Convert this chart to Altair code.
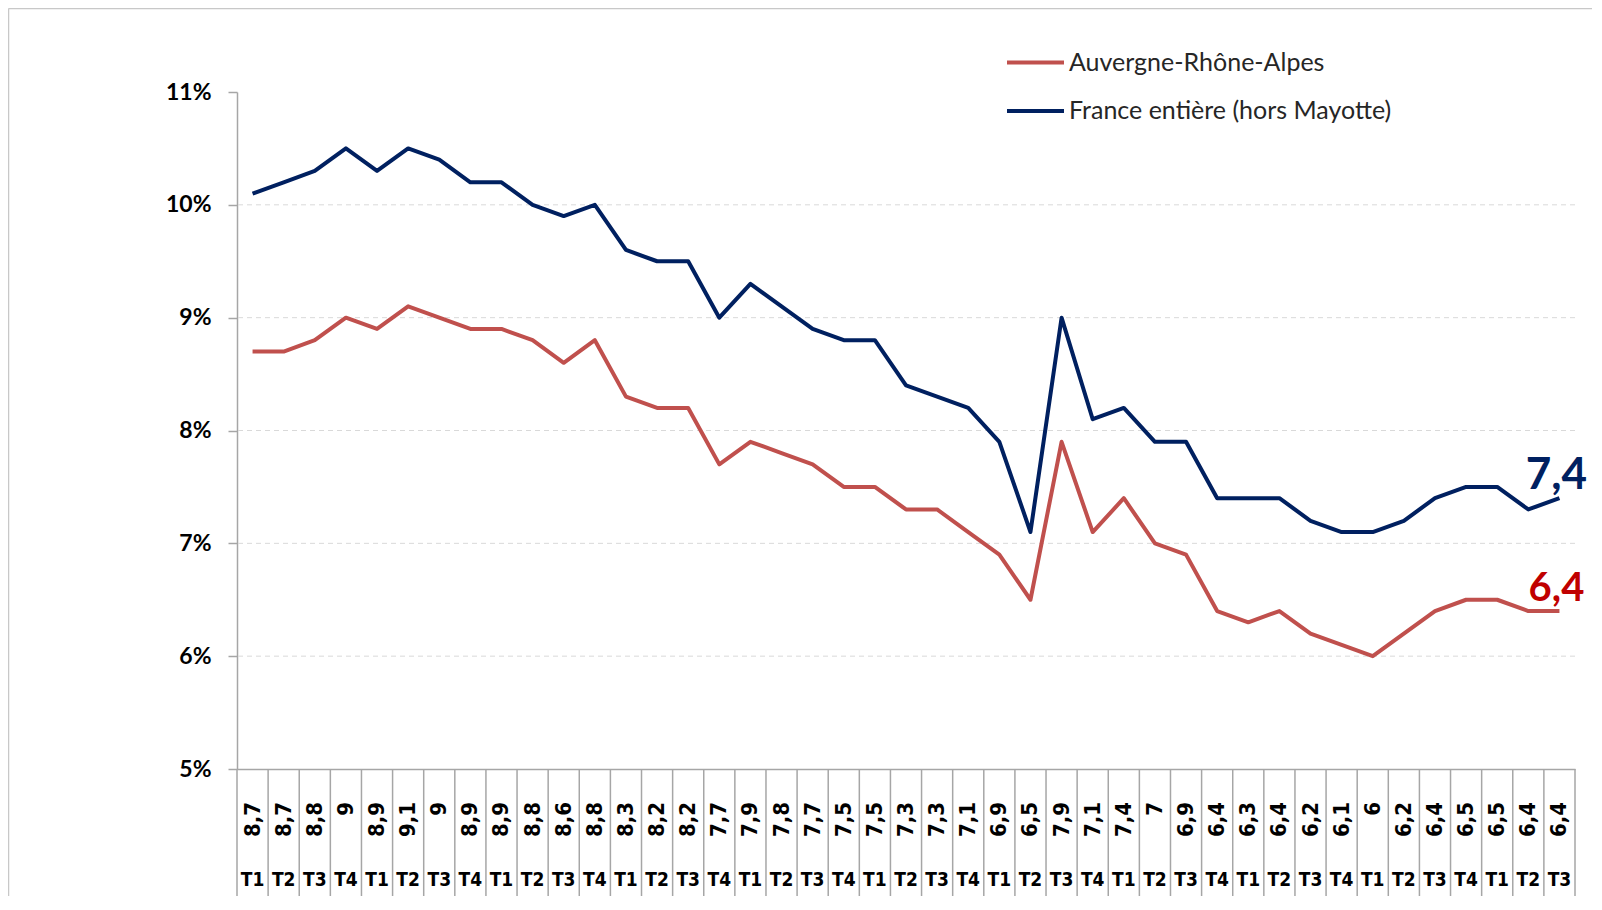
import altair as alt
import pandas as pd

# ---- data ----
quarters = ["T1", "T2", "T3", "T4", "T1", "T2", "T3", "T4", "T1", "T2", "T3", "T4",
            "T1", "T2", "T3", "T4", "T1", "T2", "T3", "T4", "T1", "T2", "T3", "T4",
            "T1", "T2", "T3", "T4", "T1", "T2", "T3", "T4", "T1", "T2", "T3", "T4",
            "T1", "T2", "T3", "T4", "T1", "T2", "T3"]
auvergne = [8.7, 8.7, 8.8, 9.0, 8.9, 9.1, 9.0, 8.9, 8.9, 8.8, 8.6, 8.8,
            8.3, 8.2, 8.2, 7.7, 7.9, 7.8, 7.7, 7.5, 7.5, 7.3, 7.3, 7.1,
            6.9, 6.5, 7.9, 7.1, 7.4, 7.0, 6.9, 6.4, 6.3, 6.4, 6.2, 6.1,
            6.0, 6.2, 6.4, 6.5, 6.5, 6.4, 6.4]
france = [10.1, 10.2, 10.3, 10.5, 10.3, 10.5, 10.4, 10.2, 10.2, 10.0, 9.9, 10.0,
          9.6, 9.5, 9.5, 9.0, 9.3, 9.1, 8.9, 8.8, 8.8, 8.4, 8.3, 8.2,
          7.9, 7.1, 9.0, 8.1, 8.2, 7.9, 7.9, 7.4, 7.4, 7.4, 7.2, 7.1,
          7.1, 7.2, 7.4, 7.5, 7.5, 7.3, 7.4]
series_names = ["Auvergne-Rhône-Alpes", "France entière (hors Mayotte)"]
series_colors = ["#C0504D", "#002060"]
end_label_colors = ["#C00000", "#002060"]
end_label_sizes = [40, 44]
y_ticks = [5, 6, 7, 8, 9, 10, 11]
grid_values = [6, 7, 8, 9, 10]


def fr(v):
    return f"{v:g}".replace(".", ",")


n = len(quarters)
cat_df = pd.DataFrame({
    "idx": list(range(n)),
    "q": quarters,
    "lab": [fr(v) for v in auvergne],
})
rows = []
for i in range(n):
    rows.append({"idx": i, "series": series_names[0], "value": auvergne[i]})
    rows.append({"idx": i, "series": series_names[1], "value": france[i]})
line_df = pd.DataFrame(rows)
end_df = pd.DataFrame({
    "idx": [n - 1, n - 1],
    "value": [auvergne[-1], france[-1]],
    "txt": [fr(auvergne[-1]), fr(france[-1])],
    "col": end_label_colors,
    "fs": end_label_sizes,
})
grid_df = pd.DataFrame({"v": grid_values})

W, H = 1338, 677
BOTTOM = 127
NARROW = "Liberation Sans Narrow, DejaVu Sans Condensed, Arial Narrow, sans-serif"
GRAY = "#A6A6A6"

x_scale = alt.Scale(type="band", paddingInner=0, paddingOuter=0)
y_scale = alt.Scale(domain=[5, 11], nice=False, zero=False)

grid = alt.Chart(grid_df).mark_rule(
    color="#D9D9D9", strokeDash=[5, 4], strokeWidth=1
).encode(y=alt.Y("v:Q", scale=y_scale))

seps = alt.Chart(cat_df).mark_rule(color=GRAY, strokeWidth=1.5).encode(
    x=alt.X("idx:O", bandPosition=0, scale=x_scale),
    y=alt.value(H), y2=alt.value(H + BOTTOM),
)
last_sep = alt.Chart(cat_df.tail(1)).mark_rule(color=GRAY, strokeWidth=1.5).encode(
    x=alt.X("idx:O", bandPosition=1, scale=x_scale),
    y=alt.value(H), y2=alt.value(H + BOTTOM),
)

lines = alt.Chart(line_df).mark_line(strokeWidth=4, strokeJoin="round").encode(
    x=alt.X("idx:O", bandPosition=0.5, scale=x_scale,
            axis=alt.Axis(labels=False, ticks=False, title=None,
                          domainColor=GRAY, domainWidth=1.5)),
    y=alt.Y("value:Q", scale=y_scale,
            axis=alt.Axis(values=y_ticks, labelExpr="datum.value + '%'", grid=False,
                          domainColor=GRAY, domainWidth=1.5, tickColor=GRAY, tickWidth=1.5,
                          tickSize=9, labelFont="Lato", labelFontSize=23,
                          labelFontWeight="bold", labelColor="#000000",
                          labelPadding=17, title=None)),
    color=alt.Color("series:N",
                    scale=alt.Scale(domain=series_names, range=series_colors),
                    legend=alt.Legend(orient="none", legendX=768, legendY=-60, title=None,
                                      symbolType="stroke", symbolStrokeWidth=4,
                                      symbolSize=3249, labelFont="Lato", labelFontSize=25,
                                      labelColor="#262626", rowPadding=4.5, labelOffset=3,
                                      padding=0, labelLimit=600)),
    order="idx:O",
)

row1 = alt.Chart(cat_df).mark_text(
    angle=270, align="right", baseline="middle", font=NARROW,
    fontWeight="bold", fontSize=22, color="#000000"
).encode(
    x=alt.X("idx:O", bandPosition=0.5, scale=x_scale),
    y=alt.value(710), text="lab:N",
)
row2 = alt.Chart(cat_df).mark_text(
    align="center", baseline="middle", font=NARROW,
    fontWeight="bold", fontSize=19, color="#000000"
).encode(
    x=alt.X("idx:O", bandPosition=0.5, scale=x_scale),
    y=alt.value(788), text="q:N",
)

end_labels = alt.Chart(end_df).mark_text(
    align="center", baseline="middle", font="Lato", fontWeight="bold", dy=-22, dx=-3
).encode(
    x=alt.X("idx:O", bandPosition=0.5, scale=x_scale),
    y=alt.Y("value:Q", scale=y_scale),
    text="txt:N",
    color=alt.Color("col:N", scale=None),
    size=alt.Size("fs:Q", scale=None),
)

frame_top = alt.Chart(grid_df.head(1)).mark_rule(color="#C8C8C8", strokeWidth=1.5).encode(
    x=alt.value(-228.5), x2=alt.value(W + 20), y=alt.value(-83.5)
)
frame_left = alt.Chart(grid_df.head(1)).mark_rule(color="#C8C8C8", strokeWidth=1.5).encode(
    x=alt.value(-228.5), y=alt.value(-83.5), y2=alt.value(H + BOTTOM)
)

chart = alt.layer(
    frame_top, frame_left, grid, seps, last_sep, lines, row1, row2, end_labels
).properties(
    width=W, height=H,
    padding={"left": 229, "top": 84, "right": 17, "bottom": BOTTOM},
    autosize=alt.AutoSizeParams(type="none"),
    background="white",
).configure_view(stroke=None)

chart.save("out.html", embed_options={"renderer": "svg", "actions": False})
